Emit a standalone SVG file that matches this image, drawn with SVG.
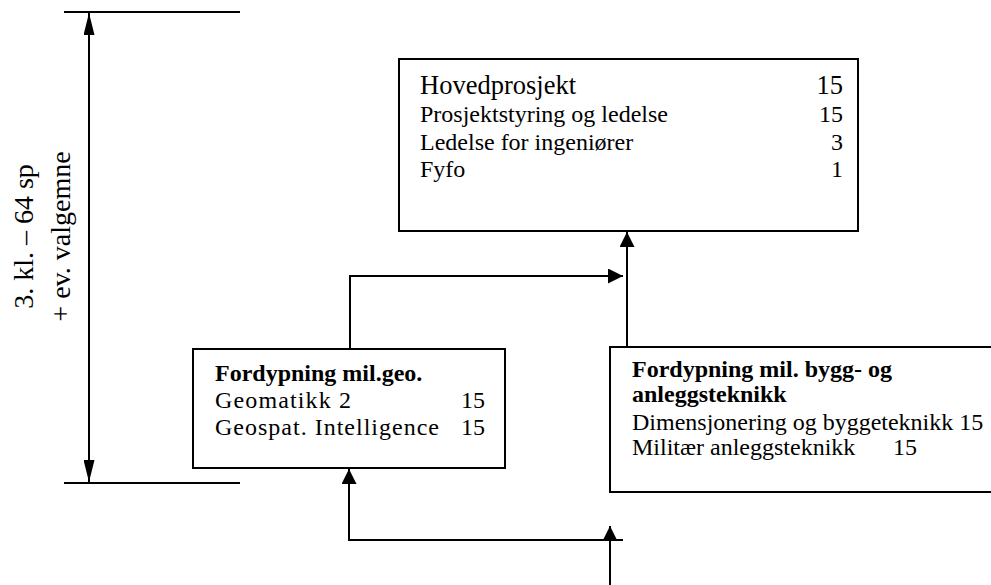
<svg xmlns="http://www.w3.org/2000/svg" width="991" height="585" viewBox="0 0 991 585">
<style>
text{font-family:"Liberation Serif","Times New Roman",serif;fill:#000}
.box{fill:#fff;stroke:#000;stroke-width:2}
.big{font-size:26.5px}
.mid{font-size:24px}
.sm{font-size:24px}
.b{font-size:24px;font-weight:bold}
.num{text-anchor:end}
.con{fill:none;stroke:#000;stroke-width:2}
.side{font-size:28px;text-anchor:middle}
</style>
<defs>
<marker id="ah" markerUnits="userSpaceOnUse" markerWidth="15" markerHeight="15" refX="15" refY="7.5" orient="auto">
<path d="M0,0 L15,7.5 L0,15 z" fill="#000"/>
</marker>
<marker id="dh" markerUnits="userSpaceOnUse" markerWidth="22" markerHeight="11" refX="22" refY="5.5" orient="auto-start-reverse">
<path d="M0,0 L22,5.5 L0,11 z" fill="#000"/>
</marker>
</defs>
<g id="scale">
<line x1="64" y1="12" x2="240" y2="12" class="con"/>
<line x1="64" y1="483" x2="240" y2="483" class="con"/>
<line x1="89" y1="13" x2="89" y2="482" class="con" marker-start="url(#dh)" marker-end="url(#dh)"/>
<g transform="rotate(-90)">
<text class="side" x="-236.5" y="33">3. kl. – 64 sp</text>
<text class="side" x="-236.5" y="70">+ ev. valgemne</text>
</g>
</g>
<g id="connectors">
<path class="con" d="M350,349 V276 H623" marker-end="url(#ah)"/>
<path class="con" d="M627,347 V232" marker-end="url(#ah)"/>
<path class="con" d="M623,540 H349 V469" marker-end="url(#ah)"/>
<path class="con" d="M610,585 V526" marker-end="url(#ah)"/>
</g>
<g id="hovedprosjekt">
<rect class="box" x="399" y="59" width="459" height="172"/>
<text class="big" x="420" y="94">Hovedprosjekt</text>
<text class="big num" x="843" y="94">15</text>
<text class="sm" x="420" y="122">Prosjektstyring og ledelse</text>
<text class="sm num" x="843" y="122">15</text>
<text class="sm" x="420" y="150">Ledelse for ingeniører</text>
<text class="sm num" x="843" y="150">3</text>
<text class="sm" x="420" y="177">Fyfo</text>
<text class="sm num" x="843" y="177">1</text>
</g>
<g id="milgeo">
<rect class="box" x="193" y="349" width="312" height="119"/>
<text class="b" x="215" y="381">Fordypning mil.geo.</text>
<text class="mid" x="215" y="408" textLength="136" lengthAdjust="spacing">Geomatikk 2</text>
<text class="mid num" x="485" y="408" textLength="24" lengthAdjust="spacingAndGlyphs">15</text>
<text class="mid" x="215" y="435" textLength="224" lengthAdjust="spacing">Geospat. Intelligence</text>
<text class="mid num" x="485" y="435" textLength="24" lengthAdjust="spacingAndGlyphs">15</text>
</g>
<g id="bygg">
<rect class="box" x="610" y="347" width="400" height="145"/>
<text class="b" x="632" y="377">Fordypning mil. bygg- og</text>
<text class="b" x="632" y="402">anleggsteknikk</text>
<text class="sm" x="632" y="430">Dimensjonering og byggeteknikk 15</text>
<text class="sm" x="632" y="455">Militær anleggsteknikk</text>
<text class="sm" x="893" y="455">15</text>
</g>
</svg>
